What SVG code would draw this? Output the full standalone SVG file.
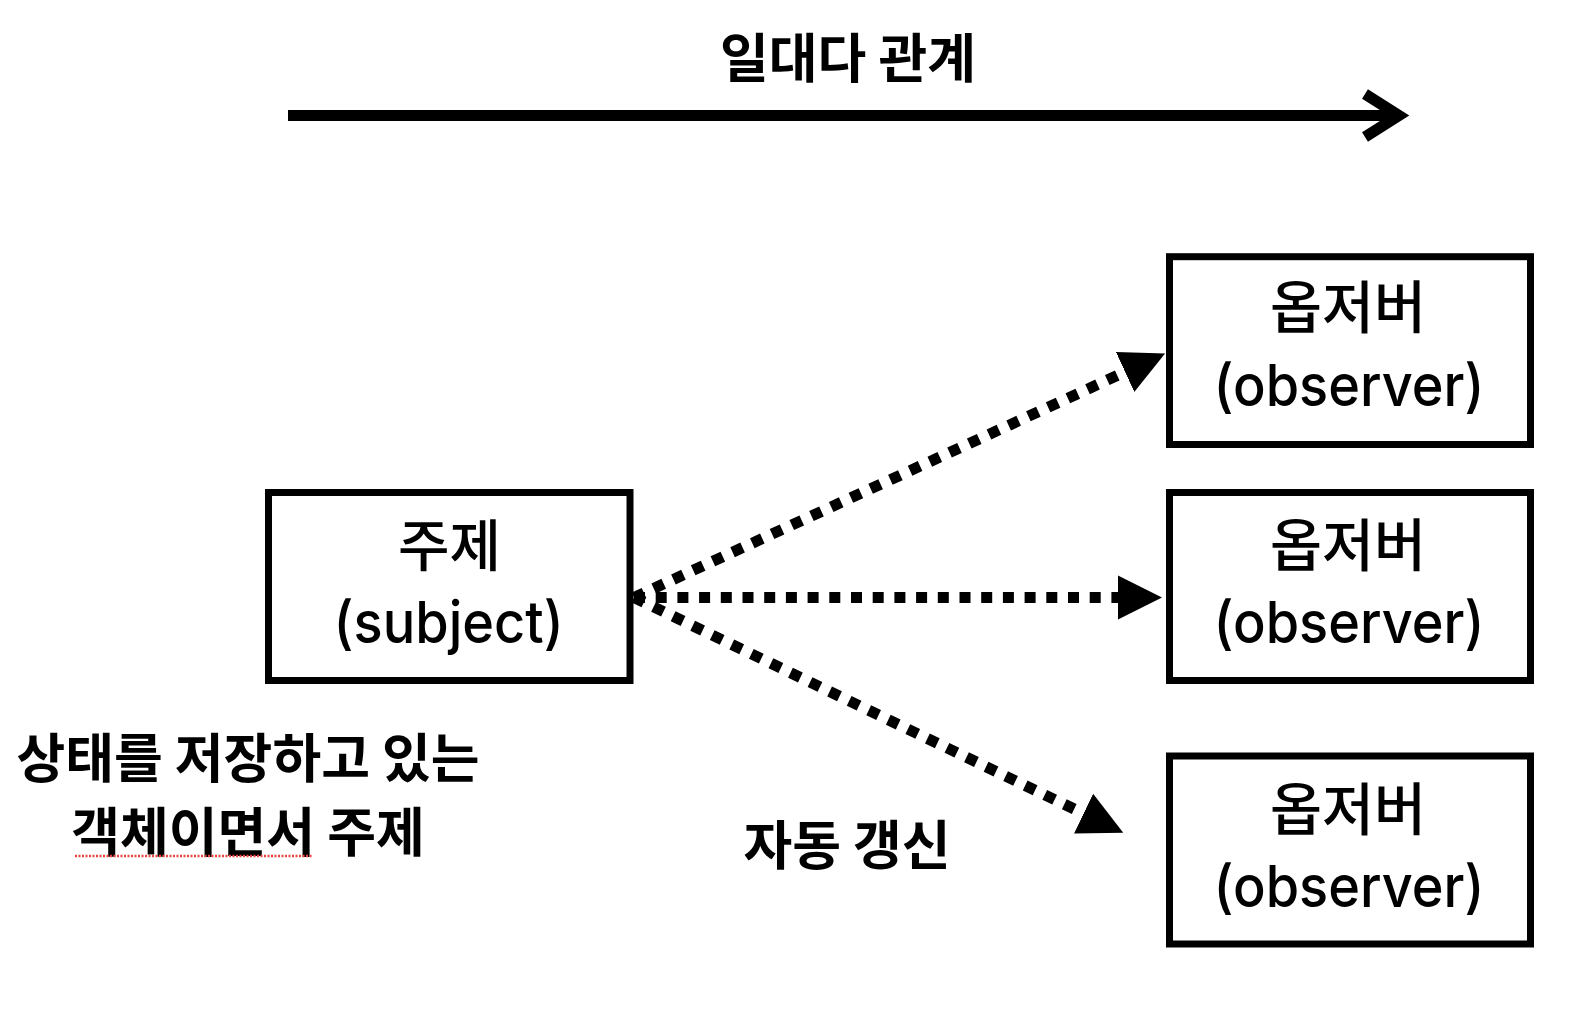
<svg xmlns="http://www.w3.org/2000/svg" width="1586" height="1010" viewBox="0 0 1586 1010">
<style>
.box{fill:#fff;stroke:#000;stroke-width:7}
.ko{font-family:"Noto Sans CJK KR","Noto Sans",sans-serif;fill:#000;text-anchor:middle}
.lat{font-family:Inter,"Liberation Sans","Noto Sans",sans-serif;font-weight:500;fill:#000;text-anchor:middle}
.m{font-weight:500}
.b{font-weight:bold}
.dot{fill:none;stroke:#000;stroke-width:11;stroke-dasharray:11 10.7}
</style>
<defs>
<marker id="tri" markerUnits="userSpaceOnUse" markerWidth="46" markerHeight="46" viewBox="0 0 46 46" refX="1" refY="23" orient="auto">
<path d="M0,1 L44,23 L0,45 Z" fill="#000"/>
</marker>
</defs>
<rect width="1586" height="1010" fill="#fff"/>
<g id="title">
<text class="ko b" x="848" y="78" font-size="53">일대다 관계</text>
<path d="M288,115.5 H1396" stroke="#000" stroke-width="11" fill="none"/>
<path d="M1365,94 L1399,115.5 L1365,137" stroke="#000" stroke-width="11" fill="none"/>
</g>
<g id="connectors">
<path class="dot" d="M634,597.5 L1126,371.5" marker-end="url(#tri)"/>
<path class="dot" d="M634,597.5 L1119,597.5" marker-end="url(#tri)"/>
<path class="dot" d="M634,597.5 L1084.5,814" marker-end="url(#tri)"/>
</g>
<g id="subject">
<rect class="box" x="268.5" y="492.5" width="361.5" height="188"/>
<text class="ko m" x="449.5" y="566" font-size="56">주제</text>
<text class="lat" x="448.6" y="643" font-size="58" textLength="230" lengthAdjust="spacingAndGlyphs">(subject)</text>
</g>
<g id="observer1">
<rect class="box" x="1169.5" y="256.7" width="361" height="187.8"/>
<text class="ko m" x="1348" y="328" font-size="56.5">옵저버</text>
<text class="lat" x="1349" y="405.5" font-size="58" textLength="271" lengthAdjust="spacingAndGlyphs">(observer)</text>
</g>
<g id="observer2">
<rect class="box" x="1169.5" y="492.5" width="361" height="188"/>
<text class="ko m" x="1348" y="566" font-size="56.5">옵저버</text>
<text class="lat" x="1349" y="643" font-size="58" textLength="271" lengthAdjust="spacingAndGlyphs">(observer)</text>
</g>
<g id="observer3">
<rect class="box" x="1169.5" y="756" width="361" height="188"/>
<text class="ko m" x="1348" y="830" font-size="56.5">옵저버</text>
<text class="lat" x="1349" y="907" font-size="58" textLength="271" lengthAdjust="spacingAndGlyphs">(observer)</text>
</g>
<g id="subject-note">
<text class="ko b" x="248" y="778" font-size="53">상태를 저장하고 있는</text>
<text class="ko b" x="248" y="852" font-size="53">객체이면서 주제</text>
<path d="M75,856 H313" stroke="#e8463c" stroke-width="2.5" stroke-dasharray="2 1.5" fill="none"/>
</g>
<g id="update-label">
<text class="ko b" x="847" y="865" font-size="53">자동 갱신</text>
</g>
</svg>
